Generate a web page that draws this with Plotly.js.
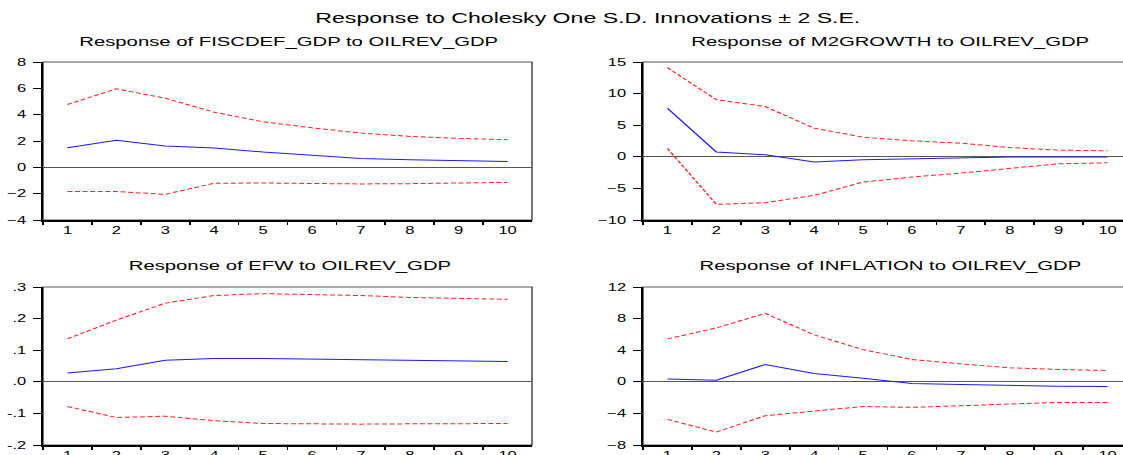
<!DOCTYPE html>
<html>
<head>
<meta charset="utf-8">
<script src="https://cdn.plot.ly/plotly-3.0.1.min.js"></script>
<style>
  html, body { margin: 0; padding: 0; overflow: hidden; background: #fff; }
  #chart { width: 688px; height: 455px; transform: scaleX(1.6497); transform-origin: 0 0; }
</style>
</head>
<body>
<div id="chart"></div>
<script>
// ---- data ----
const periods = ["1","2","3","4","5","6","7","8","9","10"];

const fiscResp  = [1.49, 2.05, 1.62, 1.46, 1.16, 0.91, 0.68, 0.58, 0.50, 0.45];
const fiscUpper = [4.77, 5.96, 5.25, 4.19, 3.46, 3.00, 2.60, 2.35, 2.20, 2.10];
const fiscLower = [-1.84, -1.84, -2.05, -1.21, -1.19, -1.24, -1.26, -1.24, -1.19, -1.14];

const m2Resp  = [7.68, 0.74, 0.32, -0.84, -0.47, -0.32, -0.10, -0.05, -0.02, -0.02];
const m2Upper = [14.1, 9.05, 7.95, 4.53, 3.10, 2.53, 2.16, 1.47, 1.05, 0.95];
const m2Lower = [1.32, -7.53, -7.26, -6.10, -4.00, -3.20, -2.58, -1.79, -1.10, -0.95];

const efwResp  = [0.028, 0.041, 0.068, 0.074, 0.074, 0.072, 0.071, 0.068, 0.067, 0.064];
const efwUpper = [0.136, 0.195, 0.249, 0.273, 0.279, 0.276, 0.273, 0.267, 0.263, 0.261];
const efwLower = [-0.078, -0.113, -0.109, -0.123, -0.132, -0.134, -0.134, -0.133, -0.133, -0.132];

const infResp  = [0.34, 0.21, 2.19, 1.05, 0.46, -0.21, -0.34, -0.46, -0.55, -0.59];
const infUpper = [5.43, 6.82, 8.67, 5.94, 4.08, 2.82, 2.27, 1.77, 1.56, 1.43];
const infLower = [-4.76, -6.36, -4.29, -3.75, -3.12, -3.24, -3.03, -2.78, -2.61, -2.61];

const mainTitle = "Response to Cholesky One S.D. Innovations \u00b1 2 S.E.";
const panelTitles = [
  "Response of FISCDEF_GDP to OILREV_GDP",
  "Response of M2GROWTH to OILREV_GDP",
  "Response of EFW to OILREV_GDP",
  "Response of INFLATION to OILREV_GDP"
];

const efwTickVals = [-0.2, -0.1, 0, 0.1, 0.2, 0.3];
const efwTickText = ["-.2", "-.1", ".0", ".1", ".2", ".3"];

// ---- build ----
const FONT = "Liberation Sans, Arial, sans-serif";
const panels = [
  {resp: fiscResp, up: fiscUpper, lo: fiscLower, xa: "x",  ya: "y"},
  {resp: m2Resp,   up: m2Upper,   lo: m2Lower,   xa: "x2", ya: "y2"},
  {resp: efwResp,  up: efwUpper,  lo: efwLower,  xa: "x3", ya: "y3"},
  {resp: infResp,  up: infUpper,  lo: infLower,  xa: "x4", ya: "y4"}
];

const traces = [];
panels.forEach(p => {
  traces.push({x: periods, y: p.up, xaxis: p.xa, yaxis: p.ya, mode: "lines",
    line: {color: "#ff2020", width: 1, dash: "3px,1.6px"}, hoverinfo: "skip"});
  traces.push({x: periods, y: p.lo, xaxis: p.xa, yaxis: p.ya, mode: "lines",
    line: {color: "#ff2020", width: 1, dash: "3px,1.6px"}, hoverinfo: "skip"});
  traces.push({x: periods, y: p.resp, xaxis: p.xa, yaxis: p.ya, mode: "lines",
    line: {color: "#1a1aff", width: 1}, hoverinfo: "skip"});
});

const W = 1135;
const xDomL = [43 / W, 532 / W];
const xDomR = [643 / W, 1132 / W];
const yDomT = [1 - 220 / 455, 1 - 62 / 455];
const yDomB = [1 - 445 / 455, 1 - 287 / 455];

function xAxis(domain, anchor) {
  return {
    domain: domain, anchor: anchor, type: "category", range: [-0.5, 9.5],
    tickson: "boundaries", ticks: "outside", ticklen: 3, tickwidth: 1, tickcolor: "#000",
    showline: true, linecolor: "#000", linewidth: 1.6, showgrid: false, zeroline: false,
    tickfont: {family: FONT, size: 10, color: "#000"}, fixedrange: true
  };
}
function yAxis(domain, anchor, range, dtick, extra) {
  const a = {
    domain: domain, anchor: anchor, range: range, dtick: dtick, tick0: 0,
    ticks: "outside", ticklen: 5, tickwidth: 1, tickcolor: "#000",
    showline: true, linecolor: "#000", linewidth: 1.2, showgrid: false,
    zeroline: true, zerolinecolor: "#555", zerolinewidth: 1,
    tickfont: {family: FONT, size: 10, color: "#000"}, ticklabelstandoff: 2,
    fixedrange: true
  };
  return Object.assign(a, extra || {});
}

const frameShapes = ["", "2", "3", "4"].map(s => ({
  type: "rect", xref: "x" + s + " domain", yref: "y" + s + " domain",
  x0: 0, x1: 1, y0: 0, y1: 1, line: {color: "#555", width: 1}, fillcolor: "rgba(0,0,0,0)",
  layer: "below"
}));

const titleXs = [289 / W, 890 / W, 289 / W, 890 / W];
const titleYs = [1 - 41.5 / 455, 1 - 41.5 / 455, 1 - 266 / 455, 1 - 266 / 455];
const annotations = panelTitles.map((t, i) => ({
  text: t, xref: "paper", yref: "paper", x: titleXs[i], y: titleYs[i],
  xanchor: "center", yanchor: "middle", showarrow: false,
  font: {family: FONT, size: 12.3, color: "#000"}
}));
annotations.push({
  text: mainTitle, xref: "paper", yref: "paper", x: 588 / W, y: 1 - 18 / 455,
  xanchor: "center", yanchor: "middle", showarrow: false,
  font: {family: FONT, size: 14, color: "#000"}
});

const layout = {
  width: 688, height: 455, autosize: false,
  margin: {l: 0, r: 0, t: 0, b: 0, pad: 0},
  paper_bgcolor: "#fff", plot_bgcolor: "#fff",
  showlegend: false,
  xaxis:  xAxis(xDomL, "y"),
  xaxis2: xAxis(xDomR, "y2"),
  xaxis3: xAxis(xDomL, "y3"),
  xaxis4: xAxis(xDomR, "y4"),
  yaxis:  yAxis(yDomT, "x",  [-4, 8], 2),
  yaxis2: yAxis(yDomT, "x2", [-10, 15], 5),
  yaxis3: yAxis(yDomB, "x3", [-0.2, 0.3], 0.1, {tickmode: "array", tickvals: efwTickVals, ticktext: efwTickText}),
  yaxis4: yAxis(yDomB, "x4", [-8, 12], 4),
  shapes: frameShapes,
  annotations: annotations
};

Plotly.newPlot("chart", traces, layout, {displayModeBar: false, staticPlot: true});
</script>
</body>
</html>
